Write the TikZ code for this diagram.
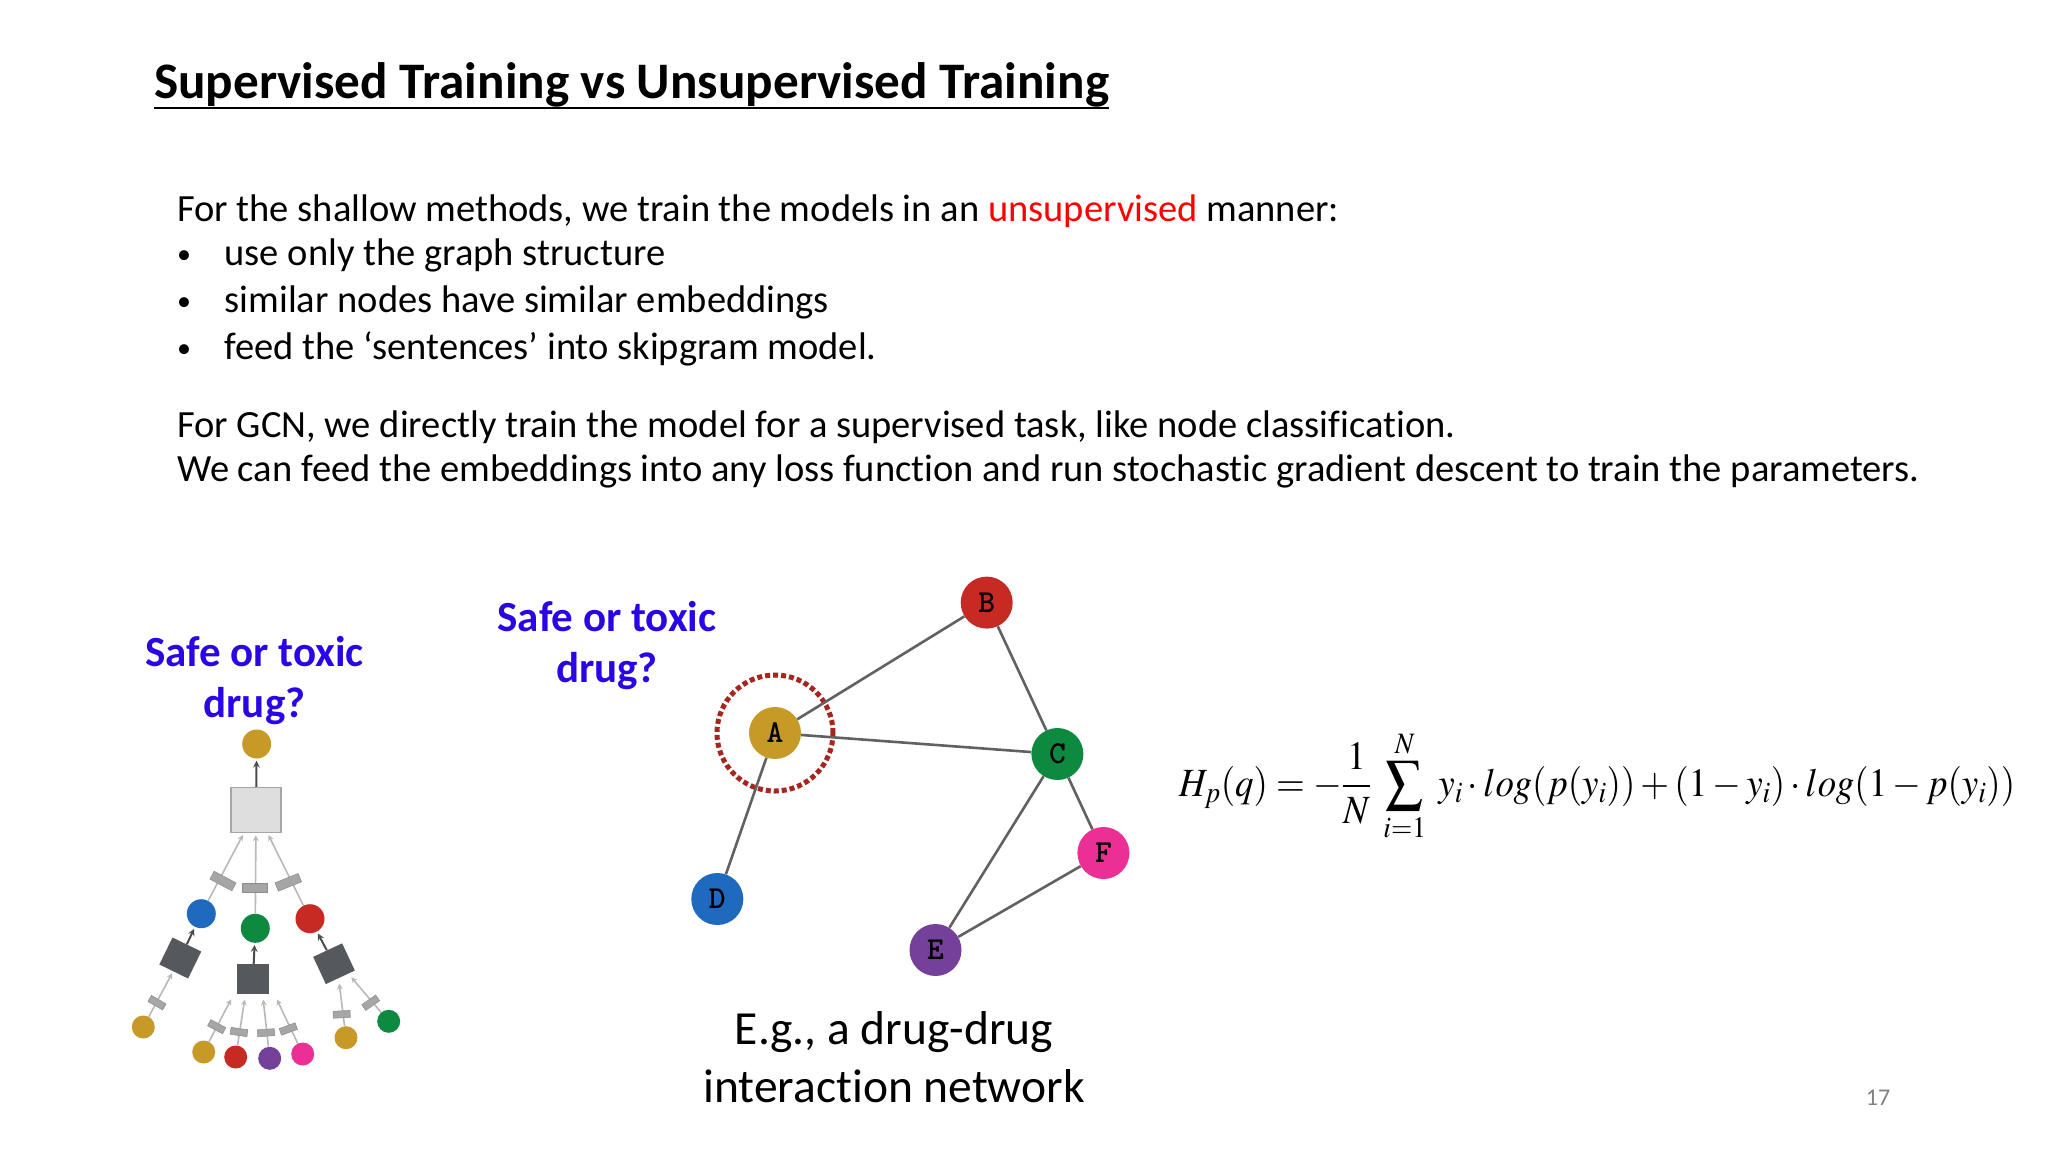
\documentclass[tikz,border=0pt]{standalone}
\usepackage{mathptmx}
\usepackage[no-math]{fontspec}
\setmainfont[Ligatures=NoCommon]{Carlito}
\definecolor{askblue}{HTML}{2A06E6}
\definecolor{goldnode}{HTML}{C79A28}
\definecolor{rednode}{HTML}{C62A22}
\definecolor{greennode}{HTML}{0E8A40}
\definecolor{bluenode}{HTML}{1F69BE}
\definecolor{purplenode}{HTML}{75409A}
\definecolor{pinknode}{HTML}{EC2F94}
\definecolor{darkfill}{HTML}{55585D}
\tikzset{
  slidetitle/.style={anchor=base west,inner sep=0pt,font=\fontsize{51.2}{56}\selectfont\bfseries},
  bodyline/.style={anchor=base west,inner sep=0pt,font=\fontsize{38.5}{44}\selectfont},
  bulletline/.style={anchor=base west,inner sep=0pt,font=\fontsize{28}{30}\selectfont},
  asktext/.style={align=center,inner sep=0pt,text=askblue,font=\fontsize{43}{51}\selectfont\bfseries},
  captext/.style={align=center,inner sep=0pt,font=\fontsize{47.5}{58}\selectfont},
  gnode/.style={circle,minimum size=52pt,inner sep=0pt,font=\fontsize{32}{32}\selectfont\ttfamily\bfseries},
  dot/.style={circle,minimum size=29pt,inner sep=0pt},
  leaf/.style={circle,minimum size=23pt,inner sep=0pt},
  bigbox/.style={rectangle,minimum width=50pt,minimum height=45pt,inner sep=0pt,fill=black!13,draw=black!35,line width=1.5pt},
  darkbox/.style={rectangle,minimum width=32pt,minimum height=30pt,inner sep=0pt,fill=darkfill},
  wtbar/.style={rectangle,minimum width=25pt,minimum height=9pt,inner sep=0pt,fill=black!35,draw=black!45,line width=.5pt},
  wtsmall/.style={wtbar,minimum width=17pt,minimum height=7pt},
  graphedge/.style={draw=black!62,line width=2.6pt},
  lightedge/.style={draw=black!28,line width=1.6pt,-stealth,shorten >=2pt},
  darkedge/.style={draw=black!70,line width=2pt,-stealth,shorten >=2pt}
}
\begin{document}
\begin{tikzpicture}[x=1pt,y=-1pt]
  \useasboundingbox (0,0) rectangle (2048,1152);
  \node[slidetitle] (title) at (154,98) {Supervised Training vs Unsupervised Training};
  \draw[line width=1.6pt] ([yshift=-10pt]title.base west) to ([yshift=-10pt]title.base east);

  \node[bodyline] (intro) at (177,221) {For the shallow methods, we train the models in an \textcolor{red}{unsupervised} manner:};
  \node[bulletline] (bul1) at (177,263) {•};
  \node[bulletline] (bul2) at (177,310) {•};
  \node[bulletline] (bul3) at (177,357) {•};
  \node[bodyline] (item1) at (224.5,265) {use only the graph structure};
  \node[bodyline] (item2) at (224.5,312) {similar nodes have similar embeddings};
  \node[bodyline] (item3) at (224.5,359) {feed the ‘sentences’ into skipgram model.};
  \node[bodyline] (gcn1) at (177,437) {For GCN, we directly train the model for a supervised task, like node classification.};
  \node[bodyline] (gcn2) at (177,481) {We can feed the embeddings into any loss function and run stochastic gradient descent to train the parameters.};

  \node[asktext] (ask1) at (254.5,680.5) {Safe or toxic\\drug?};
  \node[asktext] (ask2) at (607,645.5) {Safe or toxic\\drug?};

  \node[dot,fill=goldnode] (top) at (256.7,744) {};
  \node[bigbox] (big) at (256,810) {};
  \node[dot,fill=bluenode] (blue) at (201.3,913.7) {};
  \node[dot,fill=greennode] (green) at (255.3,928.3) {};
  \node[dot,fill=rednode] (red) at (310,918.7) {};
  \node[darkbox,rotate=-26] (lbox) at (180.3,958) {};
  \node[darkbox] (mbox) at (253,979.3) {};
  \node[darkbox,rotate=25] (rbox) at (334,963.7) {};
  \node[leaf,fill=goldnode] (l1) at (143.3,1027) {};
  \node[leaf,fill=goldnode] (m1) at (203.7,1052) {};
  \node[leaf,fill=rednode] (m2) at (235.7,1057) {};
  \node[leaf,fill=purplenode] (m3) at (269.7,1058.3) {};
  \node[leaf,fill=pinknode] (m4) at (302.7,1054) {};
  \node[leaf,fill=goldnode] (r1) at (346,1037.7) {};
  \node[leaf,fill=greennode] (r2) at (388.7,1021.3) {};
  \begin{scope}[darkedge]
    \draw (big) to (top);
    \draw (lbox) to (blue);
    \draw (mbox) to (green);
    \draw (rbox) to (red);
  \end{scope}
  \begin{scope}[lightedge]
    \draw (blue) to (big);
    \draw (green) to (big);
    \draw (red) to (big);
    \draw (l1) to (lbox);
    \draw (m1) to ([xshift=-21pt,yshift=-3pt]mbox.south);
    \draw (m2) to ([xshift=-8pt,yshift=-3pt]mbox.south);
    \draw (m3) to ([xshift=10pt,yshift=-3pt]mbox.south);
    \draw (m4) to ([xshift=23pt,yshift=-3pt]mbox.south);
    \draw (r1) to ([xshift=5pt,yshift=-18pt]rbox.center);
    \draw (r2) to ([xshift=16pt,yshift=-12pt]rbox.center);
  \end{scope}
  \node[wtbar,rotate=-28] (bar1) at (223,881) {};
  \node[wtbar] (bar2) at (255,887.7) {};
  \node[wtbar,rotate=22] (bar3) at (288.3,882.3) {};
  \node[wtsmall,rotate=-30] (bar4) at (157,1002.7) {};
  \node[wtsmall,rotate=-28] (bar5) at (216.7,1026.7) {};
  \node[wtsmall,rotate=-8] (bar6) at (239,1032) {};
  \node[wtsmall,rotate=4] (bar7) at (266,1032.7) {};
  \node[wtsmall,rotate=20] (bar8) at (288.3,1029) {};
  \node[wtsmall,rotate=3] (bar9) at (341.7,1014.3) {};
  \node[wtsmall,rotate=35] (bar10) at (370.7,1002.7) {};

  \node[gnode,fill=goldnode] (A) at (775,733) {A};
  \node[gnode,fill=rednode] (B) at (986.7,602.6) {B};
  \node[gnode,fill=greennode] (C) at (1057.4,754) {C};
  \node[gnode,fill=bluenode] (D) at (717.3,899) {D};
  \node[gnode,fill=purplenode] (E) at (935.5,950) {E};
  \node[gnode,fill=pinknode] (F) at (1103.4,853) {F};
  \node[circle,minimum size=116pt,inner sep=0pt,draw=rednode!85!black,line width=5pt,dash pattern=on 5pt off 3pt] (ring) at (A) {};
  \begin{scope}[graphedge]
    \draw (A) to (B);
    \draw (A) to (C);
    \draw (A) to (D);
    \draw (B) to (C);
    \draw (C) to (E);
    \draw (C) to (F);
    \draw (E) to (F);
  \end{scope}
  \node[captext] (cap) at (894,1057) {E.g., a drug-drug\\interaction network};

  \node[inner sep=0pt,font=\fontsize{40}{44}\selectfont] (form) at (1597,786) {\scalebox{.925}[1]{$\displaystyle H_p(q)=-\frac{1}{N}\;\sum_{i=1}^{N}\;y_i\cdot log(p(y_i))+(1-y_i)\cdot log(1-p(y_i))$}};
  \node[inner sep=0pt,text=black!50,font=\fontsize{24}{24}\selectfont] (page) at (1878,1098) {17};
\end{tikzpicture}
\end{document}
